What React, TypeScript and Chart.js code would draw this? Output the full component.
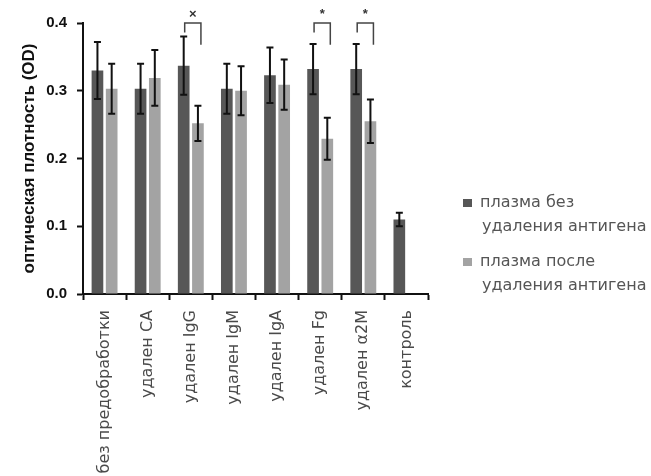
import React, { useEffect, useRef } from "react";
import { Chart, registerables } from "chart.js";

Chart.register(...registerables);

const categories = [
  "без предобработки",
  "удален СА",
  "удален IgG",
  "удален IgM",
  "удален IgA",
  "удален Fg",
  "удален α2M",
  "контроль",
];

const seriesBefore = [0.33, 0.303, 0.337, 0.303, 0.323, 0.332, 0.332, 0.11];
const errBefore = [0.042, 0.037, 0.043, 0.037, 0.041, 0.037, 0.037, 0.01];
const seriesAfter = [0.303, 0.319, 0.252, 0.3, 0.309, 0.229, 0.255, null];
const errAfter = [0.037, 0.041, 0.026, 0.036, 0.037, 0.031, 0.032, null];

const seriesLabels = ["плазма без удаления антигена", "плазма после удаления антигена"];
const legendLines = [
  ["плазма без", "удаления антигена"],
  ["плазма после", "удаления антигена"],
];

const sigGroups = [2, 5, 6];
const sigMarks = ["×", "*", "*"];
const sigTop = 0.4;
const sigLeftEnd = 0.386;
const sigRightEnd = 0.368;

const yTicks = [0, 0.1, 0.2, 0.3, 0.4];

const DARK = "#575757";
const LIGHT = "#a3a3a3";

const errorBarPlugin = {
  id: "errorBars",
  afterDatasetsDraw(chart: any) {
    const ctx = chart.ctx;
    const y = chart.scales.y;
    const errs = [errBefore, errAfter];
    ctx.save();
    ctx.strokeStyle = "#111";
    ctx.lineWidth = 2;
    chart.data.datasets.forEach((ds: any, i: number) => {
      const meta = chart.getDatasetMeta(i);
      meta.data.forEach((el: any, j: number) => {
        const v = ds.data[j];
        const e = errs[i][j];
        if (v == null || e == null) return;
        const x = el.x;
        const yt = y.getPixelForValue(v + e);
        const yb = y.getPixelForValue(v - e);
        ctx.beginPath();
        ctx.moveTo(x, yt);
        ctx.lineTo(x, yb);
        ctx.moveTo(x - 3.5, yt);
        ctx.lineTo(x + 3.5, yt);
        ctx.moveTo(x - 3.5, yb);
        ctx.lineTo(x + 3.5, yb);
        ctx.stroke();
      });
    });
    ctx.restore();
  },
};

const sigPlugin = {
  id: "sig",
  afterDatasetsDraw(chart: any) {
    const ctx = chart.ctx;
    const y = chart.scales.y;
    const m0 = chart.getDatasetMeta(0);
    const m1 = chart.getDatasetMeta(1);
    ctx.save();
    ctx.strokeStyle = "#444";
    ctx.lineWidth = 1.5;
    ctx.fillStyle = "#333";
    ctx.font = "bold 13px 'Liberation Sans', Arial, sans-serif";
    ctx.textAlign = "center";
    ctx.textBaseline = "middle";
    sigGroups.forEach((g, k) => {
      const x1 = m0.data[g].x + 1;
      const x2 = m1.data[g].x + 3;
      const yt = y.getPixelForValue(sigTop);
      ctx.beginPath();
      ctx.moveTo(x1, y.getPixelForValue(sigLeftEnd));
      ctx.lineTo(x1, yt);
      ctx.lineTo(x2, yt);
      ctx.lineTo(x2, y.getPixelForValue(sigRightEnd));
      ctx.stroke();
      ctx.fillText(sigMarks[k], (x1 + x2) / 2, yt - 9);
    });
    ctx.restore();
  },
};

const legendPlugin = {
  id: "customLegend",
  afterDraw(chart: any) {
    const ctx = chart.ctx;
    const area = chart.chartArea;
    const x0 = area.right + 35;
    const starts = [area.top + 180, area.top + 239];
    ctx.save();
    ctx.font = "16px 'DejaVu Sans', sans-serif";
    ctx.textBaseline = "middle";
    chart.data.datasets.forEach((ds: any, i: number) => {
      const yy = starts[i];
      ctx.fillStyle = ds.backgroundColor;
      ctx.fillRect(x0, yy - 4, 9, 8);
      ctx.fillStyle = "#555";
      legendLines[i].forEach((line, li) => {
        ctx.fillText(line, x0 + 17 + li * 2, yy + li * 24);
      });
    });
    ctx.restore();
  },
};

export default function App() {
  const ref = useRef<HTMLCanvasElement | null>(null);
  useEffect(() => {
    if (!ref.current) return;
    const chart = new Chart(ref.current, {
      type: "bar",
      data: {
        labels: categories,
        datasets: [
          {
            label: seriesLabels[0],
            data: seriesBefore,
            backgroundColor: DARK,
            categoryPercentage: 0.66,
            barPercentage: 0.82,
          },
          {
            label: seriesLabels[1],
            data: seriesAfter,
            backgroundColor: LIGHT,
            categoryPercentage: 0.66,
            barPercentage: 0.82,
          },
        ],
      },
      options: {
        responsive: false,
        animation: false,
        layout: { padding: { top: 23, right: 223, left: 0, bottom: 0 } },
        plugins: {
          legend: { display: false },
          tooltip: { enabled: false },
        },
        scales: {
          x: {
            grid: {
              display: true,
              drawOnChartArea: false,
              drawTicks: true,
              tickLength: 6,
              tickWidth: 2,
              tickColor: "#111",
              offset: true,
            },
            border: { display: true, color: "#111", width: 2 },
            ticks: {
              autoSkip: false,
              minRotation: 90,
              maxRotation: 90,
              padding: 10,
              color: "#4a4a4a",
              font: { family: "'DejaVu Sans', sans-serif", size: 16 },
            },
            afterFit(scale: any) {
              scale.height = 182;
            },
          },
          y: {
            min: 0,
            max: 0.4,
            afterBuildTicks(scale: any) {
              scale.ticks = yTicks.map((v) => ({ value: v }));
            },
            grid: {
              display: true,
              drawOnChartArea: false,
              drawTicks: true,
              tickLength: 6,
              tickWidth: 2,
              tickColor: "#111",
            },
            border: { display: true, color: "#111", width: 2 },
            ticks: {
              padding: 10,
              color: "#111",
              font: { family: "'Liberation Sans', Arial, sans-serif", size: 15, weight: "bold" },
              callback: (v: any) => Number(v).toFixed(1),
            },
            title: {
              display: true,
              text: "оптическая плотность (OD)",
              color: "#111",
              font: { family: "'Liberation Sans', Arial, sans-serif", size: 17, weight: "bold" },
              padding: { top: 19, bottom: 0 },
            },
            afterFit(scale: any) {
              scale.width = 83;
            },
          },
        },
      },
      plugins: [errorBarPlugin, sigPlugin, legendPlugin],
    });
    return () => chart.destroy();
  }, []);
  return (
    <div style={{ position: "absolute", left: 0, top: 0, width: 651, height: 476, background: "#fff" }}>
      <canvas ref={ref} width={651} height={476} />
    </div>
  );
}
